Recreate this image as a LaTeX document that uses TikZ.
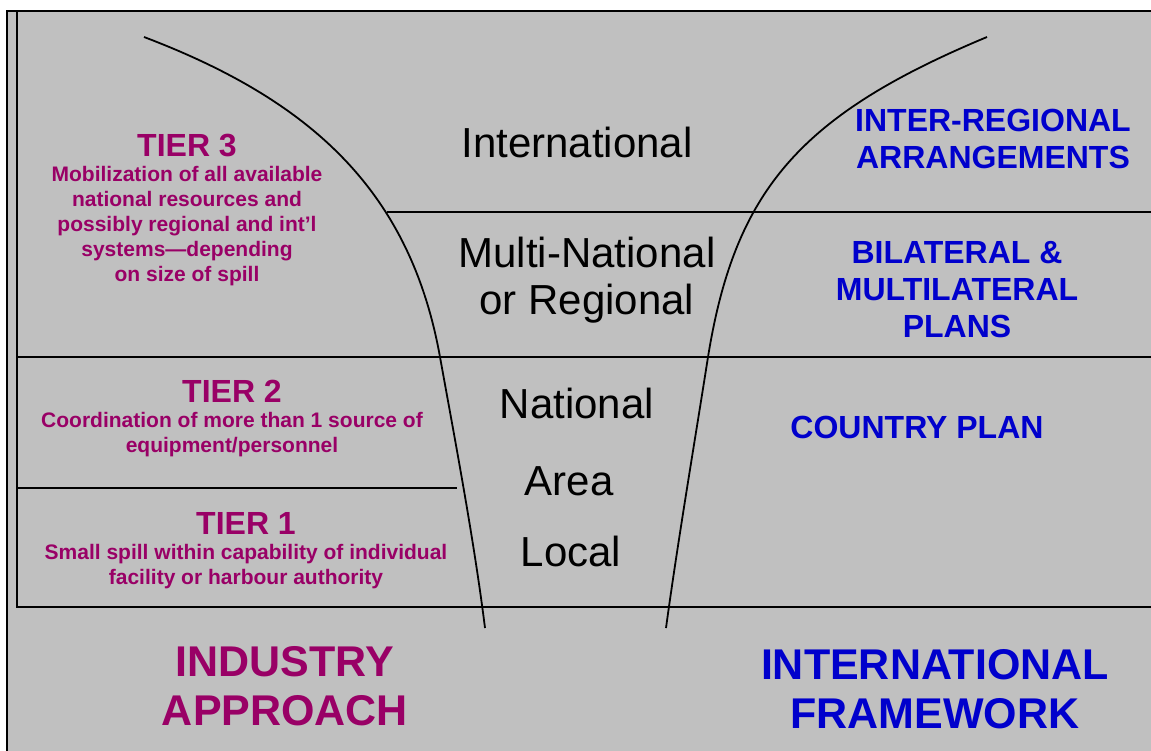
\documentclass[tikz,border=0pt]{standalone}
\usepackage{fontspec}
\setmainfont{Liberation Sans}
\usetikzlibrary{positioning}
\definecolor{tiercol}{RGB}{153,0,102}
\definecolor{plancol}{RGB}{0,0,204}
\definecolor{panel}{RGB}{192,192,192}
\tikzset{
	framerule/.style={line width=1.8pt},
	divrule/.style={line width=1.5pt},
	funnel/.style={line width=1.8pt},
	level/.style={font=\fontsize{42}{47}\selectfont, align=center, inner sep=0pt},
	tierhead/.style={text=tiercol, font=\bfseries\fontsize{32}{36}\selectfont, inner sep=0pt},
	tiertext/.style={text=tiercol, font=\bfseries\fontsize{21}{25}\selectfont, align=center, inner sep=0pt},
	plan/.style={text=plancol, font=\bfseries\fontsize{32}{37}\selectfont, align=center, inner sep=0pt},
	bighead/.style={font=\bfseries\fontsize{43}{49}\selectfont, align=center, inner sep=0pt}
}

\begin{document}
\begin{tikzpicture}[x=1pt,y=-1pt]
	\useasboundingbox (0,0) rectangle (1151,751);
	\fill[panel] (7,11) rectangle (1151,751);

	% frame and dividers
	\draw[framerule] (7,751) -- (7,11) -- (1151,11);
	\draw[framerule] (17,11) -- (17,607) -- (1151,607);
	\draw[divrule] (17,357) -- (1151,357);
	\draw[divrule] (387,212) -- (1151,212);
	\draw[divrule] (17,488) -- (457,488);

	% funnel
	\draw[funnel] (144,37) .. controls (310,100) and (410,190) .. (440,357)
		.. controls (455,440) and (474,540) .. (485,628);
	\draw[funnel] (987,37) .. controls (800,115) and (735,190) .. (708,357)
		.. controls (695,440) and (678,540) .. (666,628);

	% levels
	\node[level] (intl) at (577,142) {International};
	\node[level] (multi) at (587,280) {Multi-National\\or Regional};
	\node[level] (natl) at (577,403) {National};
	\node[level] (area) at (569,481) {Area};
	\node[level] (local) at (571,551) {Local};

	% industry tiers
	\node[tierhead] (tierthree) at (187,146) {TIER 3};
	\node[tiertext] (tierthreetxt) at (187,226) {Mobilization of all available\\national resources and\\possibly regional and int’l\\systems—depending\\on size of spill};
	\node[tierhead] (tiertwo) at (232,391) {TIER 2};
	\node[tiertext] (tiertwotxt) at (232,435) {Coordination of more than 1 source of\\equipment/personnel};
	\node[tierhead] (tierone) at (246,523) {TIER 1};
	\node[tiertext] (tieronetxt) at (246,567) {Small spill within capability of individual\\facility or harbour authority};

	% international plans
	\node[plan] (interreg) at (993,139) {INTER-REGIONAL\\ARRANGEMENTS};
	\node[plan] (bilat) at (957,290) {BILATERAL \&\\MULTILATERAL\\PLANS};
	\node[plan] (country) at (917,427) {COUNTRY PLAN};

	\node[bighead, text=tiercol] (industry) at (285,686) {INDUSTRY\\APPROACH};
	\node[bighead, text=plancol] (framework) at (935,689) {INTERNATIONAL\\FRAMEWORK};
\end{tikzpicture}
\end{document}
